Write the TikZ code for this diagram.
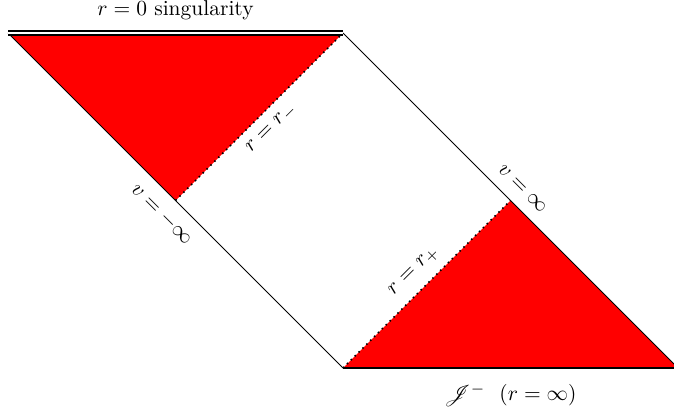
\documentclass[tikz,border=0pt]{standalone}
\usepackage{amsmath}
\usepackage{mathrsfs}
\usepackage{xcolor}
\usetikzlibrary{positioning}
\definecolor{region}{HTML}{FF0000}

\begin{document}
\begin{tikzpicture}[x=6cm, y=6cm,
    every node/.style={font=\fontsize{10.95}{13}\selectfont},
    edge/.style={draw=black, line width=0.4pt},
    horizon/.style={draw=black, thick, dotted},
    sing/.style={draw=black, line width=1pt, double, double distance=0.8pt},
    scri/.style={draw=black, very thick},
    lbl/.style={inner sep=2pt}]

  \useasboundingbox (-0.024,-0.1224) rectangle (1.988,1.0985);

  % corners of the strip
  \coordinate (tl) at (0,1);
  \coordinate (tr) at (1,1);
  \coordinate (bl) at (1,0);
  \coordinate (br) at (2,0);
  \coordinate (ml) at (0.5,0.5);
  \coordinate (mr) at (1.5,0.5);

  % shaded regions
  \fill[region] (tl) -- (tr) -- (ml) -- cycle;
  \fill[region] (bl) -- (br) -- (mr) -- cycle;

  % boundaries
  \draw[edge] (tl) -- (ml) -- node[lbl, sloped, below=4pt, pos=0, name=vminus] {$v=-\infty$} (bl);
  \draw[edge] (tr) -- (mr) -- node[lbl, sloped, above=4pt, pos=0, name=vplus] {$v=\infty$} (br);
  \draw[horizon] (ml) -- node[lbl, sloped, below=3pt, name=rminus] {$r=r_-$} (tr);
  \draw[horizon] (bl) -- node[lbl, sloped, above=3pt, name=rplus] {$r=r_+$} (mr);
  \draw[sing] (tl) -- node[above=3pt, name=singlbl] {$r=0$ singularity} (tr);
  \draw[scri] (bl) -- node[below=4pt, name=scrilbl] {$\mathscr{J}^-\ \ (r=\infty)$} (br);
\end{tikzpicture}
\end{document}
